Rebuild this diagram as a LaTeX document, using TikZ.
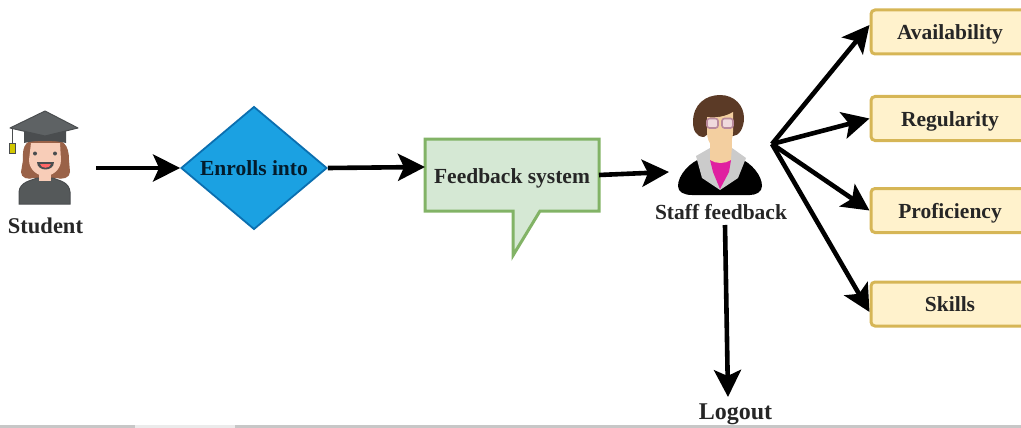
\documentclass[tikz,border=0pt]{standalone}
\usepackage{fontspec}
\setmainfont{Liberation Serif}
\usetikzlibrary{shapes.geometric,arrows.meta}
\definecolor{txt}{HTML}{262626}
\definecolor{bluefill}{HTML}{1BA1E2}
\definecolor{bluedraw}{HTML}{0B6FB0}
\definecolor{greenfill}{HTML}{D5E8D4}
\definecolor{greendraw}{HTML}{82B366}
\definecolor{yelfill}{HTML}{FFF2CC}
\definecolor{yeldraw}{HTML}{D6B656}
\definecolor{capgrey}{HTML}{5E6264}
\definecolor{capdark}{HTML}{4A4D4F}
\definecolor{gownc}{HTML}{55595A}
\definecolor{hairS}{HTML}{9A6248}
\definecolor{skinS}{HTML}{F8CDB8}
\definecolor{hairT}{HTML}{5B3A26}
\definecolor{skinT}{HTML}{F3CFA0}
\definecolor{pinkT}{HTML}{E020A0}
\definecolor{collarT}{HTML}{CBCBCB}
\definecolor{lensT}{HTML}{EFD9DC}
\definecolor{frameT}{HTML}{B98A9C}
\tikzset{
  lbl/.style={font=\fontsize{21.5}{24}\selectfont\bfseries,text=txt,inner sep=0pt},
  conn/.style={line width=4.6pt,black,-{Stealth[length=27pt,width=27pt,inset=6pt]}},
  attr/.style={rectangle,rounded corners=4pt,draw=yeldraw,fill=yelfill,line width=3pt,minimum width=158pt,minimum height=44pt,lbl,text height=16pt,text depth=1pt},
  decision/.style={diamond,draw=bluedraw,fill=bluefill,line width=1.8pt,minimum width=146pt,minimum height=118pt,inner sep=0pt,lbl,text=black!75!bluedraw},
}
\begin{document}
\begin{tikzpicture}[x=1pt,y=-1pt]
\useasboundingbox (0,0) rectangle (1021,428);
\clip (0,0) rectangle (1021,428);
% bottom screen edge
\fill[black!22] (0,425) rectangle (1021,428);
\fill[black!8] (135,425) rectangle (235,428);

% student icon
\fill[hairS] (23,160) .. controls (22,145) and (26,138) .. (45,138) .. controls (64,138) and (69,145) .. (69,160) -- (70,172) .. controls (70,178) and (62,180) .. (56,178) -- (34,178) .. controls (28,180) and (21,178) .. (21,172) -- cycle;
\fill[gownc,draw=capdark,line width=1pt] (19,204) -- (19,192) .. controls (20,182) and (30,181) .. (37,178) -- (53,178) .. controls (60,181) and (69,182) .. (70,192) -- (70,204) -- cycle;
\fill[skinS] (39,172) rectangle (51,181);
\fill[skinS] (31,143) -- (60,143) -- (61,160) .. controls (61,170) and (52,176) .. (45,176) .. controls (38,176) and (29,170) .. (29,160) -- cycle;
\fill[capdark] (35,153.5) circle (2pt) (55,153.5) circle (2pt);
\fill[capdark] (37,162) .. controls (37,172) and (54,172) .. (54,162) -- cycle;
\fill[red!60!white] (40,164) .. controls (41,169) and (50,169) .. (51,164) -- cycle;
\fill[capdark] (24,126) -- (66,126) -- (66,143) .. controls (55,140) and (35,140) .. (24,143) -- cycle;
\fill[capgrey,draw=capdark,line width=1pt,line join=round] (45,111) -- (78,128) -- (45,136) -- (10,128) -- cycle;
\draw[capdark,line width=1pt] (12,129) -- (12,144);
\fill[yellow!60!olive,draw=capdark,line width=.6pt] (9,143) rectangle (15,153);

% staff icon
\fill[black] (678,186) .. controls (678,175) and (690,162) .. (702,158) -- (739,158) .. controls (752,163) and (762,176) .. (762,186) .. controls (762,192) and (756,195) .. (750,195) -- (692,195) .. controls (684,195) and (678,192) .. (678,186) -- cycle;
\fill[collarT] (696,156) -- (710,148) -- (732,148) -- (746,158) -- (738,178) -- (720,190) -- (702,178) -- cycle;
\fill[pinkT] (710,160) -- (731,160) -- (729,172) -- (720,189) -- (713,172) -- cycle;
\fill[hairT] (704,137) .. controls (696,137) and (693,130) .. (693,122) .. controls (693,104) and (706,95) .. (720,95) .. controls (735,95) and (744,106) .. (744,118) .. controls (744,128) and (739,136) .. (733,136) -- (720,125) -- cycle;
\fill[skinT] (710,130) rectangle (732,150);
\fill[skinT] (710,145) -- (732,145) -- (731,160) .. controls (725,164) and (716,164) .. (710,160) -- cycle;
\fill[skinT] (707,117) .. controls (715,118) and (725,117) .. (733,112) -- (733,132) .. controls (733,145) and (724,150) .. (720,150) .. controls (716,150) and (707,145) .. (707,132) -- cycle;
\draw[frameT,fill=lensT,line width=1.6pt,rounded corners=2.5pt] (707,118.5) rectangle (718,128);
\draw[frameT,fill=lensT,line width=1.6pt,rounded corners=2.5pt] (722,118.5) rectangle (733,128);

% callout
\draw[greendraw,fill=greenfill,line width=3pt,line join=miter] (425,139) -- (599,139) -- (599,211) -- (540,211) -- (513,255.5) -- (513,211) -- (425,211) -- cycle;

% nodes
\node[decision] (enroll) at (254,168) {Enrolls into};
\node[lbl] (student) at (45.5,226) {\fontsize{22.5}{24}\selectfont Student};
\node[lbl] (system) at (512,178) {Feedback system};
\coordinate (sysL) at (425,167);
\coordinate (sysR) at (599,175);
\node[lbl] (staff) at (721,212) {Staff feedback};
\node[lbl] (logout) at (735.5,414) {\fontsize{24}{26}\selectfont Logout};
\node[attr] (avail) at (950,32) {Availability};
\node[attr] (regul) at (950,118.5) {Regularity};
\node[attr] (prof) at (950,210.5) {Proficiency};
\node[attr] (skill) at (950,304) {Skills};
\coordinate (studentOut) at (96,168);
\coordinate (staffIn) at (669,172);
\coordinate (hub) at (772,144);
\coordinate (staffDown) at (725,225);
\coordinate (logoutIn) at (728,397);

% connectors
\draw[conn] (studentOut) -- (enroll.west);
\draw[conn] (enroll.east) -- (sysL);
\draw[conn] (sysR) -- (staffIn);
\draw[conn] (hub) -- ([yshift=7pt]avail.west);
\draw[conn] (hub) -- (regul.west);
\draw[conn] (hub) -- (prof.west);
\draw[conn] (hub) -- ([yshift=-8pt]skill.west);
\draw[conn] (staffDown) -- (logoutIn);
\end{tikzpicture}
\end{document}
